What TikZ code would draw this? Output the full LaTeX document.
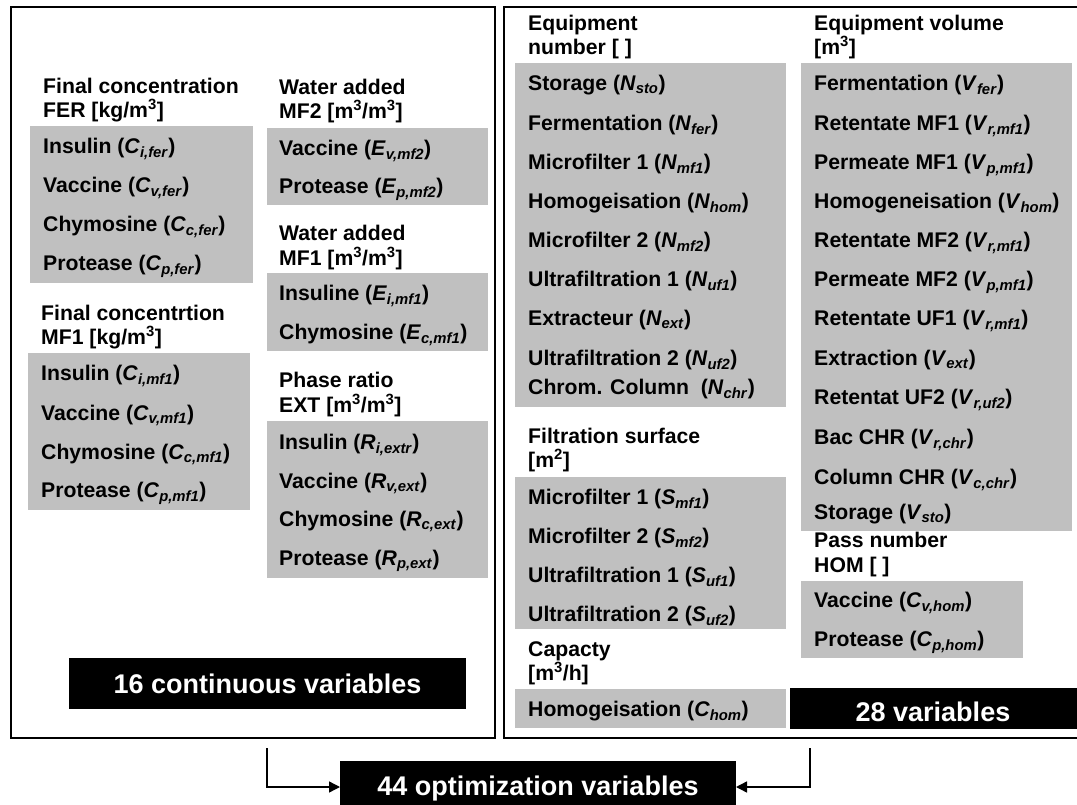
\documentclass[tikz,border=0pt]{standalone}
\usepackage{fontspec}
\setmainfont{Liberation Sans}
\usetikzlibrary{arrows.meta}
\definecolor{boxgray}{RGB}{192,192,192}
\newcommand\vv[2]{\textit{#1}\textsubscript{\textit{#2}}}
\newcommand\gb[5]{\node[gbox, minimum width={(#4-#2)*1pt}, minimum height={(#5-#3)*1pt}] (#1) at ({(#2+#4)/2},{(#3+#5)/2}) {};}
\newcommand\cube{\textsuperscript{3}}
\begin{document}
\begin{tikzpicture}[x=1pt,y=-1pt,
  txt/.style={anchor=base west, inner sep=0pt, font=\fontsize{21.2}{24}\selectfont\bfseries},
  gbox/.style={fill=boxgray, draw=none, inner sep=0pt, outer sep=0pt},
  outer/.style={draw=black, line width=1.4pt, inner sep=0pt},
  blk/.style={fill=black, draw=none, inner sep=0pt, outer sep=0pt},
  wtxt/.style={anchor=base, inner sep=0pt, text=white, font=\fontsize{27}{30}\selectfont\bfseries},
  arr/.style={line width=1.4pt, -{Triangle[length=11pt,width=11pt]}}]
\useasboundingbox (0,0) rectangle (1077,805);
\clip (0,0) rectangle (1077,805);
% outer frames
\node[outer, minimum width=484pt, minimum height=731pt] (L) at (253,372.5) {};
\node[outer, minimum width=590pt, minimum height=731pt] (R) at (799,372.5) {};
% gray boxes
\gb{g1}{30}{126}{253}{283}
\gb{g2}{28}{353}{250}{510}
\gb{g3}{267}{128}{488}{205}
\gb{g4}{267}{273}{488}{351}
\gb{g5}{267}{421}{488}{578}
\gb{g6}{515}{63}{786}{407}
\gb{g7}{515}{477}{786}{629}
\gb{g8}{515}{689}{786}{728}
\gb{g9}{801}{63}{1072}{531}
\gb{g10}{801}{581}{1023}{658}
% left column
\node[txt] (h1a) at (43,93.5) {Final concentration};
\node[txt] (h1b) at (43,117.5) {FER [kg/m\cube]};
\node[txt] (a1) at (43,153.5) {Insulin (\vv{C}{i,fer})};
\node[txt] (a2) at (43,192.5) {Vaccine (\vv{C}{v,fer})};
\node[txt] (a3) at (43,231.5) {Chymosine (\vv{C}{c,fer})};
\node[txt] (a4) at (43,270.5) {Protease (\vv{C}{p,fer})};
\node[txt] (h2a) at (41,320.5) {Final concentrtion};
\node[txt] (h2b) at (41,344.5) {MF1 [kg/m\cube]};
\node[txt] (b1) at (41,380.5) {Insulin (\vv{C}{i,mf1})};
\node[txt] (b2) at (41,420) {Vaccine (\vv{C}{v,mf1})};
\node[txt] (b3) at (41,459) {Chymosine (\vv{C}{c,mf1})};
\node[txt] (b4) at (41,497.5) {Protease (\vv{C}{p,mf1})};
% middle column
\node[txt] (h3a) at (279,94.5) {Water added};
\node[txt] (h3b) at (279,118.5) {MF2 [m\cube/m\cube]};
\node[txt] (c1) at (279,155.5) {Vaccine (\vv{E}{v,mf2})};
\node[txt] (c2) at (279,194) {Protease (\vv{E}{p,mf2})};
\node[txt] (h4a) at (279,240.5) {Water added};
\node[txt] (h4b) at (279,265.5) {MF1 [m\cube/m\cube]};
\node[txt] (d1) at (279,300.5) {Insuline (\vv{E}{i,mf1})};
\node[txt] (d2) at (279,339.5) {Chymosine (\vv{E}{c,mf1})};
\node[txt] (h5a) at (279,387.5) {Phase ratio};
\node[txt] (h5b) at (279,412.5) {EXT [m\cube/m\cube]};
\node[txt] (e1) at (279,449.5) {Insulin (\vv{R}{i,extr})};
\node[txt] (e2) at (279,488.5) {Vaccine (\vv{R}{v,ext})};
\node[txt] (e3) at (279,526.5) {Chymosine (\vv{R}{c,ext})};
\node[txt] (e4) at (279,565.5) {Protease (\vv{R}{p,ext})};
% equipment number
\node[txt] (h6a) at (528,30.5) {Equipment};
\node[txt] (h6b) at (528,54.5) {number [ ]};
\node[txt] (n1) at (528,90.5) {Storage (\vv{N}{sto})};
\node[txt] (n2) at (528,130.5) {Fermentation (\vv{N}{fer})};
\node[txt] (n3) at (528,169.5) {Microfilter 1 (\vv{N}{mf1})};
\node[txt] (n4) at (528,208.5) {Homogeisation (\vv{N}{hom})};
\node[txt] (n5) at (528,247.5) {Microfilter 2 (\vv{N}{mf2})};
\node[txt] (n6) at (528,286.5) {Ultrafiltration 1 (\vv{N}{uf1})};
\node[txt] (n7) at (528,325.5) {Extracteur (\vv{N}{ext})};
\node[txt] (n8) at (528,365.5) {Ultrafiltration 2 (\vv{N}{uf2})};
\node[txt] (n9) at (528,394.5) {Chrom. Column~ (\vv{N}{chr})};
\node[txt] (h7a) at (528,443.5) {Filtration surface};
\node[txt] (h7b) at (528,467.5) {[m\textsuperscript{2}]};
\node[txt] (s1) at (528,504.5) {Microfilter 1 (\vv{S}{mf1})};
\node[txt] (s2) at (528,543.5) {Microfilter 2 (\vv{S}{mf2})};
\node[txt] (s3) at (528,582.5) {Ultrafiltration 1 (\vv{S}{uf1})};
\node[txt] (s4) at (528,621.5) {Ultrafiltration 2 (\vv{S}{uf2})};
\node[txt] (h8a) at (528,656.5) {Capacty};
\node[txt] (h8b) at (528,680.5) {[m\cube/h]};
\node[txt] (k1) at (528,716.5) {Homogeisation (\vv{C}{hom})};
% equipment volume
\node[txt] (h9a) at (814,30.5) {Equipment volume};
\node[txt] (h9b) at (814,54.5) {[m\cube]};
\node[txt] (v1) at (814,90.5) {Fermentation (\vv{V}{fer})};
\node[txt] (v2) at (814,130.5) {Retentate MF1 (\vv{V}{r,mf1})};
\node[txt] (v3) at (814,169.5) {Permeate MF1 (\vv{V}{p,mf1})};
\node[txt] (v4) at (814,208.5) {Homogeneisation (\vv{V}{hom})};
\node[txt] (v5) at (814,247.5) {Retentate MF2 (\vv{V}{r,mf1})};
\node[txt] (v6) at (814,286.5) {Permeate MF2 (\vv{V}{p,mf1})};
\node[txt] (v7) at (814,325.5) {Retentate UF1 (\vv{V}{r,mf1})};
\node[txt] (v8) at (814,365.5) {Extraction (\vv{V}{ext})};
\node[txt] (v9) at (814,404.5) {Retentat UF2 (\vv{V}{r,uf2})};
\node[txt] (v10) at (814,444.5) {Bac CHR (\vv{V}{r,chr})};
\node[txt] (v11) at (814,484.5) {Column CHR (\vv{V}{c,chr})};
\node[txt] (v12) at (814,519.5) {Storage (\vv{V}{sto})};
\node[txt] (h10a) at (814,547.5) {Pass number};
\node[txt] (h10b) at (814,572.5) {HOM [ ]};
\node[txt] (p1) at (814,607.5) {Vaccine (\vv{C}{v,hom})};
\node[txt] (p2) at (814,646.5) {Protease (\vv{C}{p,hom})};
% black boxes
\node[blk, minimum width=397pt, minimum height=51pt] (b16) at (267.5,683.5) {};
\node[wtxt] (t16) at (267.5,693) {16 continuous variables};
\node[blk, minimum width=300pt, minimum height=41pt] (b28) at (940,708.5) {};
\node[wtxt] (t28) at (933,721.5) {28 variables};
\node[blk, minimum width=396pt, minimum height=52pt] (opt) at (538,787) {};
\node[wtxt] (t44) at (538,795) {44 optimization variables};
% arrows
\coordinate (la) at (267,748);
\coordinate (ra) at (810,748);
\draw[arr] (la) |- (opt.west);
\draw[arr] (ra) |- (opt.east);
\end{tikzpicture}
\end{document}
